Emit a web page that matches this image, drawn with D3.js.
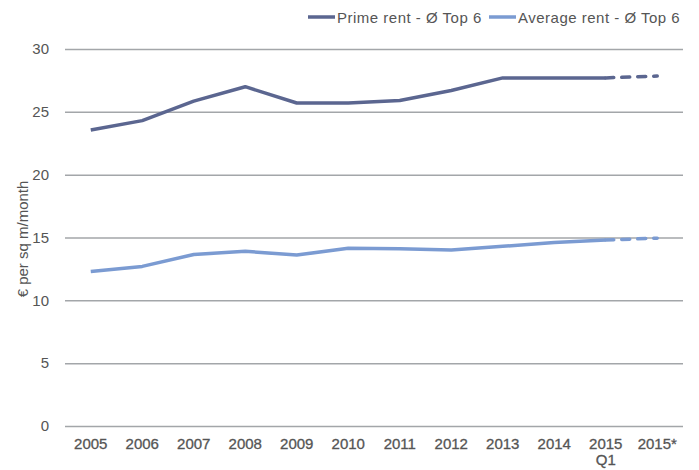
<!DOCTYPE html>
<html>
<head>
  <meta charset="utf-8">
  <title>Rents</title>
  <script src="https://cdn.jsdelivr.net/npm/d3@7"></script>
  <style>
    body { margin: 0; background: #fff; }
    text { font-family: "Liberation Sans", Arial, sans-serif; fill: #555; }
  </style>
</head>
<body>
<div id="chart"></div>
<script>
var categories = ["2005", "2006", "2007", "2008", "2009", "2010", "2011", "2012", "2013", "2014", "2015 Q1", "2015*"];
var primeRent = [23.55, 24.3, 25.85, 27.0, 25.7, 25.7, 25.9, 26.7, 27.7, 27.7, 27.7, 27.85];
var avgRent = [12.3, 12.7, 13.65, 13.9, 13.6, 14.15, 14.1, 14.0, 14.3, 14.6, 14.8, 14.95];
var yTicks = [0, 5, 10, 15, 20, 25, 30];
var seriesNames = ["Prime rent - Ø Top 6", "Average rent - Ø Top 6"];
var colors = ["#5b6690", "#7b9bd2"];

var width = 699, height = 470;
var margin = {top: 49, right: 16, bottom: 44, left: 65};

var svg = d3.select("#chart").append("svg")
    .attr("width", width)
    .attr("height", height);

var x = d3.scaleBand()
    .domain(categories)
    .range([margin.left, width - margin.right]);

var y = d3.scaleLinear()
    .domain([0, 30])
    .range([height - margin.bottom, margin.top]);

// gridlines + y labels
var yAxis = svg.append("g")
    .attr("transform", "translate(" + margin.left + ",0)")
    .call(d3.axisLeft(y).tickValues(yTicks).tickSize(-(width - margin.right - margin.left)).tickPadding(16));
yAxis.select(".domain").remove();
yAxis.selectAll(".tick line").attr("stroke", "#a3a6a9").attr("stroke-width", 1.5);
yAxis.selectAll(".tick text").attr("font-size", 15).style("fill", "#555");

// x labels
var xAxis = svg.append("g")
    .attr("transform", "translate(0," + (height - margin.bottom) + ")")
    .call(d3.axisBottom(x).tickSize(0).tickPadding(12));
xAxis.select(".domain").remove();
xAxis.selectAll(".tick text")
    .attr("font-size", 15)
    .style("fill", "#555")
    .attr("stroke", "#555")
    .attr("stroke-width", 0.3)
    .each(function(d) {
      var parts = d.split(" ");
      if (parts.length > 1) {
        var t = d3.select(this).text(null);
        t.append("tspan").attr("x", 0).text(parts[0]);
        t.append("tspan").attr("x", 0).attr("dy", "1.1em").text(parts[1]);
      }
    });

// y title
svg.append("text")
    .attr("transform", "translate(28," + 239 + ") rotate(-90)")
    .attr("text-anchor", "middle")
    .attr("font-size", 15)
    .text("€ per sq m/month");

var cx = function(d, i) { return x(categories[i]) + x.bandwidth() / 2; };
var line = d3.line()
    .x(function(d) { return d.x; })
    .y(function(d) { return y(d.v); });

[primeRent, avgRent].forEach(function(vals, s) {
  var pts = vals.map(function(v, i) { return {x: cx(v, i), v: v}; });
  var n = pts.length;
  svg.append("path")
      .attr("d", line(pts.slice(0, n - 1)))
      .attr("fill", "none")
      .attr("stroke", colors[s])
      .attr("stroke-width", 3.5)
      .attr("stroke-linejoin", "round");
  svg.append("path")
      .attr("d", line(pts.slice(n - 2)))
      .attr("fill", "none")
      .attr("stroke", colors[s])
      .attr("stroke-width", 3.5)
      .attr("stroke-linecap", "round")
      .attr("stroke-dasharray", "8,8");
});

// legend
var legendX = [308, 489];
seriesNames.forEach(function(name, s) {
  svg.append("line")
      .attr("x1", legendX[s]).attr("x2", legendX[s] + 27)
      .attr("y1", 17).attr("y2", 17)
      .attr("stroke", colors[s])
      .attr("stroke-width", 3.5);
  svg.append("text")
      .attr("x", legendX[s] + 29)
      .attr("y", 23)
      .attr("font-size", 15)
      .attr("letter-spacing", 0.5)
      .text(name);
});
</script>
</body>
</html>
